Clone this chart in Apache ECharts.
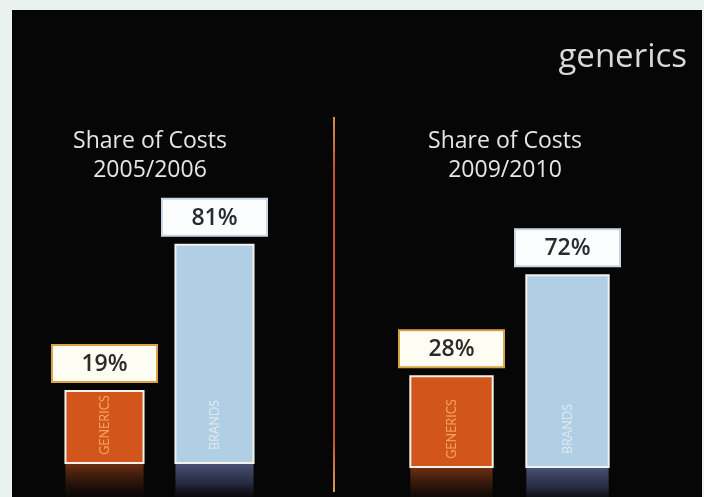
<!DOCTYPE html>
<html>
<head>
<meta charset="utf-8">
<script src="https://cdn.jsdelivr.net/npm/echarts@6/dist/echarts.min.js"></script>
<style>
  html, body { margin: 0; padding: 0; background: #e9f2ee; }
  #chart { width: 704px; height: 497px; }
</style>
</head>
<body>
<div id="chart"></div>
<script>
// ---- data ----
const categories = ['GENERICS', 'BRANDS'];
const panelTitle = 'Share of Costs';
const periods = ['2005/2006', '2009/2010'];
const shares2005 = [19, 81];   // % share of costs 2005/2006
const shares2009 = [28, 72];   // % share of costs 2009/2010
const pageTitle = 'generics';

// ---- styles ----
const barFill = ['#d2561b', '#b0cfe4'];
const barText = ['#f3a45e', '#dde9f1'];
const boxStroke = ['#d9a443', '#c9d8e6'];
const boxFill = ['#fffdf3', '#fbfdff'];
const reflectTop = ['rgba(120,52,20,0.9)', 'rgba(78,86,124,0.95)'];
const reflectMid = ['rgba(60,26,12,0.6)', 'rgba(50,54,84,0.7)'];
const FONT = '"Open Sans", Lato, sans-serif';
const SMALL_FONT = 'Lato, "Open Sans", sans-serif';
const AXIS_MIN = -11.6, AXIS_MAX = 100;

const chart = echarts.init(document.getElementById('chart'));

function renderItem(params, api) {
  const idx = params.dataIndex;
  const cat = api.value(0);
  const val = api.value(1);
  const cs = params.coordSys;
  const topPt = api.coord([cat, val]);
  const baseY = cs.y + cs.height;
  const band = api.size([1, 0])[0];
  const w = band * 0.71;
  const cx = topPt[0];
  const x = cx - w / 2;
  const h = baseY - topPt[1];
  const boxW = 105, boxH = 37, gap = 9;
  return {
    type: 'group',
    children: [
      { // reflection
        type: 'rect',
        shape: { x: x, y: baseY + 1, width: w, height: h },
        style: {
          fill: new echarts.graphic.LinearGradient(0, baseY + 1, 0, baseY + 42, [
            { offset: 0, color: reflectTop[idx] },
            { offset: 0.5, color: reflectMid[idx] },
            { offset: 1, color: 'rgba(6,6,6,0)' }
          ], true)
        }
      },
      { // bar
        type: 'rect',
        shape: { x: x, y: topPt[1], width: w, height: h },
        style: { fill: barFill[idx], stroke: '#f4f1ea', lineWidth: 2 }
      },
      { // vertical category text
        type: 'text',
        x: cx, y: baseY - 38, rotation: Math.PI / 2,
        style: {
          text: categories[idx], x: 0, y: 0,
          align: 'center', verticalAlign: 'middle',
          fill: barText[idx], font: '12.5px ' + SMALL_FONT
        }
      },
      { // label box
        type: 'rect',
        shape: { x: cx - boxW / 2, y: topPt[1] - gap - boxH, width: boxW, height: boxH },
        style: { fill: boxFill[idx], stroke: boxStroke[idx], lineWidth: 2 }
      },
      {
        type: 'text',
        x: cx, y: topPt[1] - gap - boxH / 2 + 1,
        style: {
          text: val + '%', x: 0, y: 0, align: 'center', verticalAlign: 'middle',
          fill: '#2b2b2b', font: '600 23px ' + FONT
        }
      }
    ]
  };
}

const titleStyle = { color: '#e6e6e6', fontFamily: FONT, fontSize: 23, fontWeight: 'normal', lineHeight: 29 };

const option = {
  backgroundColor: '#e9f2ee',
  animation: false,
  graphic: [
    { type: 'rect', shape: { x: 12, y: 10, width: 690, height: 487 }, style: { fill: '#060606' }, z: -10 },
    {
      type: 'line', shape: { x1: 334, y1: 117, x2: 334, y2: 492 },
      style: {
        lineWidth: 2,
        stroke: new echarts.graphic.LinearGradient(0, 0, 0, 1, [
          { offset: 0, color: '#d9904a' },
          { offset: 0.15, color: '#c4522c' },
          { offset: 0.85, color: '#c4522c' },
          { offset: 1, color: '#dba050' }
        ])
      },
      z: -5
    }
  ],
  title: [
    {
      text: pageTitle, right: 17, top: 41, padding: 0,
      textStyle: { color: '#d9d9d9', fontFamily: FONT, fontSize: 33, fontWeight: 'normal' }
    },
    { text: panelTitle + '\n' + periods[0], left: 150, textAlign: 'center', top: 127, padding: 0, textStyle: titleStyle },
    { text: panelTitle + '\n' + periods[1], left: 505, textAlign: 'center', top: 127, padding: 0, textStyle: titleStyle }
  ],
  grid: [
    { left: 49.5, width: 220, top: 200, height: 263 },
    { left: 393.5, width: 232, top: 211, height: 256 }
  ],
  xAxis: [
    { type: 'category', gridIndex: 0, data: categories, show: false },
    { type: 'category', gridIndex: 1, data: categories, show: false }
  ],
  yAxis: [
    { type: 'value', gridIndex: 0, min: AXIS_MIN, max: AXIS_MAX, show: false, splitLine: { show: false } },
    { type: 'value', gridIndex: 1, min: AXIS_MIN, max: AXIS_MAX, show: false, splitLine: { show: false } }
  ],
  series: [
    {
      type: 'custom', xAxisIndex: 0, yAxisIndex: 0, renderItem: renderItem,
      data: categories.map((c, i) => [i, shares2005[i]])
    },
    {
      type: 'custom', xAxisIndex: 1, yAxisIndex: 1, renderItem: renderItem,
      data: categories.map((c, i) => [i, shares2009[i]])
    }
  ]
};
chart.setOption(option);
</script>
</body>
</html>
